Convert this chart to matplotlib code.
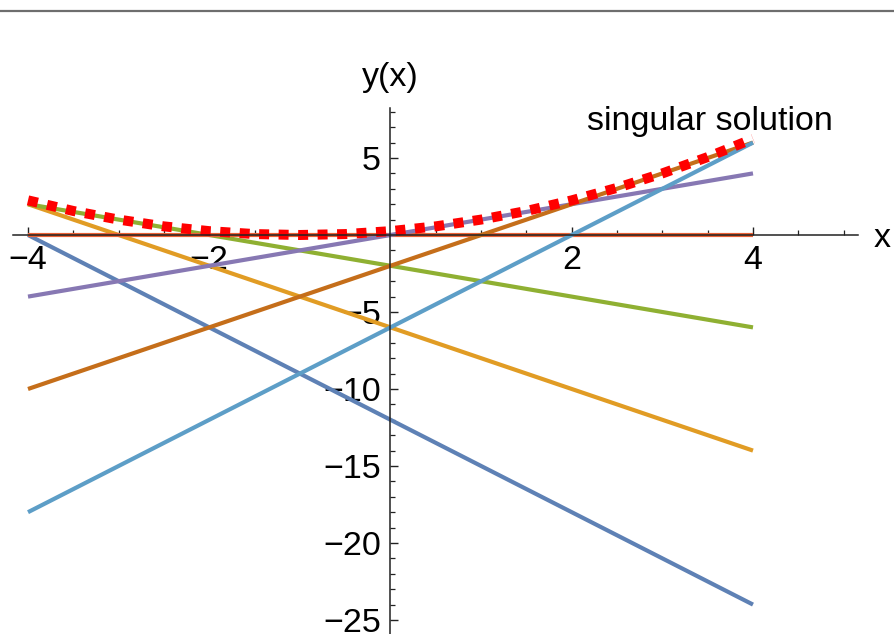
import matplotlib
matplotlib.use("Agg")
import matplotlib.pyplot as plt
from matplotlib.lines import Line2D
from matplotlib.ticker import FixedLocator, FixedFormatter

plt.rcParams['font.family'] = ['Liberation Sans', 'DejaVu Sans']

# Straight-line solutions: y values at x = -4 and x = 4
x_ends = [-4, 4]
slopes_c = [-3, -2, -1, 0, 1, 2, 3]
y_start = [0, 2, 2, 0, -4, -10, -18]
y_end = [-24, -14, -6, 0, 4, 6, 6]
line_colors = ['#5E81B5', '#E19C24', '#8FB032', '#EB6235', '#8778B3', '#C56E1A', '#5D9EC7']

# Singular solution
sing_x = [-4, -3.5, -3, -2.5, -2, -1.5, -1, -0.5, 0, 0.5, 1, 1.5, 2, 2.5, 3, 3.5, 4]
sing_y = [2.25, 1.56, 1.0, 0.56, 0.25, 0.06, 0.0, 0.06, 0.25, 0.56, 1.0, 1.56, 2.25, 3.06, 4.0, 5.06, 6.25]

xticks_major = [-4, -2, 2, 4]
xtick_labels = ['\u22124', '\u22122', '2', '4']
xticks_minor = [-3.5, -3, -2.5, -1.5, -1, -0.5, 0.5, 1, 1.5, 2.5, 3, 3.5, 4.5, 5]
yticks_major = [5, -5, -10, -15, -20, -25]
ytick_labels = ['5', '\u22125', '\u221210', '\u221215', '\u221220', '\u221225']
yticks_minor = [8, 7, 6, 4, 3, 2, 1, -1, -2, -3, -4, -6, -7, -8, -9, -11, -12, -13, -14,
                -16, -17, -18, -19, -21, -22, -23, -24]

fig = plt.figure(figsize=(8.95, 6.34), dpi=100)
ax = fig.add_axes([0, 0, 1, 1])
ax.set_xlim(-4.309, 5.567)
ax.set_ylim(-25.91, 15.26)

for ys, ye, col in zip(y_start, y_end, line_colors):
    ax.plot(x_ends, [ys, ye], color=col, lw=3.0, solid_capstyle='butt', zorder=2)

ax.plot(sing_x, sing_y, color='#FF0000', lw=7.2, linestyle=(0, (1, 0.95)),
        dash_capstyle='butt', zorder=4)

for s in ['top', 'right']:
    ax.spines[s].set_visible(False)
ax.spines['left'].set_position(('data', 0))
ax.spines['bottom'].set_position(('data', 0))
ax.spines['bottom'].set_bounds(-4.17, 5.16)
ax.spines['left'].set_bounds(-25.91, 8.25)
for s in ['left', 'bottom']:
    ax.spines[s].set_linewidth(1.1)
    ax.spines[s].set_color('#222222')
    ax.spines[s].set_zorder(5)

ax.xaxis.set_major_locator(FixedLocator(xticks_major))
ax.xaxis.set_major_formatter(FixedFormatter(xtick_labels))
ax.xaxis.set_minor_locator(FixedLocator(xticks_minor))
ax.yaxis.set_major_locator(FixedLocator(yticks_major))
ax.yaxis.set_major_formatter(FixedFormatter(ytick_labels))
ax.yaxis.set_minor_locator(FixedLocator(yticks_minor))

ax.tick_params(axis='both', which='major', direction='in', length=6, width=1.0,
               labelsize=24.5, color='#222222', pad=7)
ax.tick_params(axis='both', which='minor', direction='in', length=3.6, width=0.9,
               color='#222222')
ax.tick_params(axis='x', which='both', top=False)
ax.tick_params(axis='y', which='both', right=False)

ax.text(0, 10.2, 'y(x)', ha='center', va='center', fontsize=24.5)
ax.text(5.42, -0.2, 'x', ha='center', va='center', fontsize=24.5)
ax.text(3.53, 7.35, 'singular solution', ha='center', va='center', fontsize=24.5)

fig.add_artist(Line2D([0, 1], [1 - 11 / 634, 1 - 11 / 634], color='#6e6e6e', lw=1.6,
                      transform=fig.transFigure))

fig.savefig('out.png', dpi=100)
